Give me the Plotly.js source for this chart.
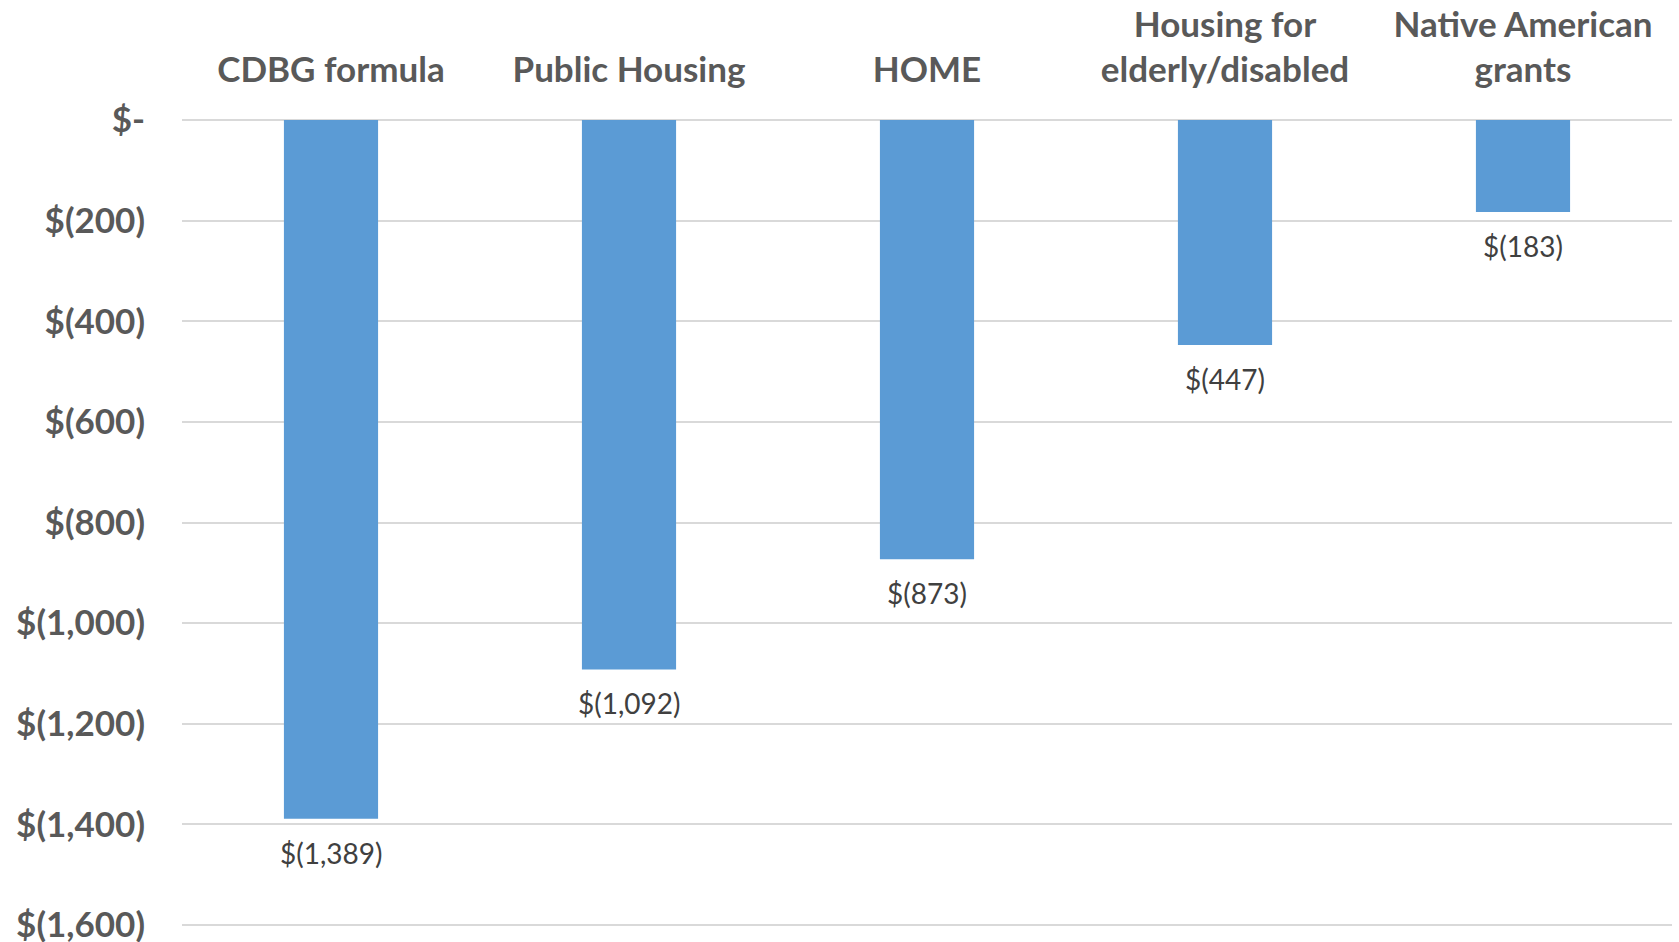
<!DOCTYPE html>
<html>
<head>
<meta charset="utf-8">
<script src="https://cdn.plot.ly/plotly-3.0.1.min.js"></script>
<style>
html,body{margin:0;padding:0;background:#fff;}
#chart{width:1679px;height:942px;}
</style>
</head>
<body>
<div id="chart"></div>
<script>
const categories = ["CDBG formula", "Public Housing", "HOME", "Housing for<br>elderly/disabled", "Native American<br>grants"];
const values = [-1389, -1092, -873, -447, -183];
const yTickVals = [0, -200, -400, -600, -800, -1000, -1200, -1400, -1600];
const yTickText = ["$-", "$(200)", "$(400)", "$(600)", "$(800)", "$(1,000)", "$(1,200)", "$(1,400)", "$(1,600)"];

function money(v) {
  const s = Math.abs(v).toLocaleString("en-US");
  return v < 0 ? "$(" + s + ")" : "$" + s;
}

const trace = {
  type: "bar",
  x: categories,
  y: values,
  marker: {color: "#5B9BD5"},
  width: 0.316,
  hoverinfo: "skip"
};

const annotations = categories.map((c, i) => ({
  x: c,
  y: values[i],
  xref: "x",
  yref: "y",
  text: money(values[i]),
  showarrow: false,
  yanchor: "middle",
  yshift: -34,
  font: {family: "Lato, 'Open Sans', sans-serif", size: 28, color: "#404040"}
}));

const layout = {
  width: 1679,
  height: 942,
  margin: {l: 182, r: 7, t: 120, b: 16},
  paper_bgcolor: "#fff",
  plot_bgcolor: "#fff",
  showlegend: false,
  xaxis: {
    side: "top",
    type: "category",
    range: [-0.5, 4.5],
    showgrid: false,
    showline: false,
    zeroline: false,
    ticks: "",
    ticklabelstandoff: 30,
    tickfont: {family: "Lato, 'Open Sans', sans-serif", size: 35, color: "#595959", weight: "bold"},
    fixedrange: true
  },
  yaxis: {
    range: [-1602, 0],
    tickvals: yTickVals,
    ticktext: yTickText,
    ticklabeloverflow: "allow",
    showgrid: true,
    gridcolor: "#D9D9D9",
    gridwidth: 2,
    zeroline: true,
    zerolinecolor: "#D9D9D9",
    zerolinewidth: 2,
    showline: false,
    ticks: "",
    ticklabelstandoff: 36,
    tickfont: {family: "Lato, 'Open Sans', sans-serif", size: 35, color: "#595959", weight: "bold"},
    fixedrange: true
  },
  annotations: annotations
};

Plotly.newPlot("chart", [trace], layout, {displayModeBar: false, staticPlot: true});
</script>
</body>
</html>
